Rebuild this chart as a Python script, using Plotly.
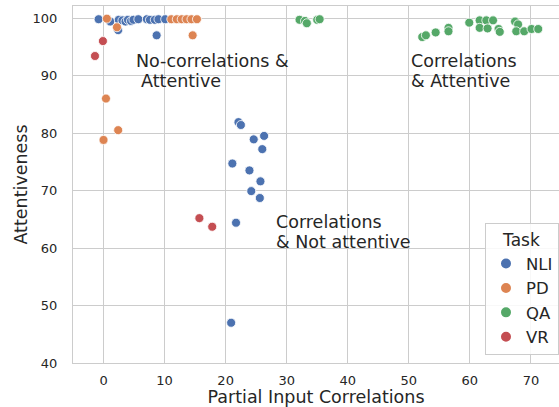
import plotly.graph_objects as go

# ---- data ----
tasks = ["NLI", "PD", "QA", "VR"]
colors = ["#4C72B0", "#DD8452", "#55A868", "#C44E52"]

nli_x = [-0.8, 1.1, 2.5, 2.4, 3.1, 3.6, 4.0, 4.5, 4.9, 5.7, 7.1, 7.6, 8.4, 9.0, 10.1, 8.7,
         22.1, 22.5, 26.3, 24.6, 26.0, 21.1, 23.9, 25.7, 24.2, 25.6, 21.7, 20.9]
nli_y = [99.8, 99.4, 99.7, 97.9, 99.6, 99.4, 99.7, 99.5, 99.7, 99.8, 99.8, 99.7, 99.7, 99.8, 99.8, 97.0,
         81.9, 81.4, 79.5, 78.9, 77.2, 74.7, 73.5, 71.6, 69.9, 68.7, 64.4, 47.0]

pd_x = [0.55, 2.2, 11.1, 12.0, 12.8, 13.6, 14.4, 15.3, 14.6, 0.4, 2.4, 0.0]
pd_y = [99.9, 98.4, 99.8, 99.8, 99.8, 99.8, 99.8, 99.8, 97.0, 86.0, 80.5, 78.8]

qa_x = [32.1, 33.0, 33.3, 35.0, 35.4, 52.2, 52.8, 54.4, 56.5, 56.5, 59.9, 61.6, 61.6, 62.7,
        63.8, 62.9, 64.7, 64.9, 67.4, 67.9, 67.6, 68.9, 70.1, 71.2]
qa_y = [99.7, 99.5, 99.1, 99.7, 99.8, 96.7, 97.0, 97.5, 98.3, 97.7, 99.2, 99.6, 98.3, 99.6,
        99.6, 98.2, 98.1, 97.6, 99.4, 98.9, 97.7, 97.7, 98.1, 98.1]

vr_x = [-0.1, -1.4, 15.7, 17.8]
vr_y = [96.0, 93.4, 65.2, 63.7]

x_ticks = [0, 10, 20, 30, 40, 50, 60, 70]
y_ticks = [40, 50, 60, 70, 80, 90, 100]

labels = [
    ("No-correlations &", 5.0, 92.5),
    ("Attentive", 5.8, 89.0),
    ("Correlations", 50.0, 92.5),
    ("& Attentive", 50.0, 89.0),
    ("Correlations", 28.0, 64.5),
    ("& Not attentive", 28.0, 61.0),
]

series = [(nli_x, nli_y), (pd_x, pd_y), (qa_x, qa_y), (vr_x, vr_y)]

FONT = "DejaVu Sans"
TXT = "#262626"
GRID = "#cccccc"

fig = go.Figure()
for name, col, (xs, ys) in zip(tasks, colors, series):
    fig.add_trace(go.Scatter(
        x=xs, y=ys, mode="markers", name=name,
        marker=dict(size=9, color=col, line=dict(color="white", width=0.8)),
    ))

for text, x, y in labels:
    fig.add_annotation(x=x, y=y, text=text, showarrow=False, xanchor="left", yanchor="middle",
                       font=dict(family=FONT, size=17.5, color=TXT))

fig.update_layout(
    width=559, height=407,
    margin=dict(l=73, r=0, t=6, b=44, autoexpand=False),
    paper_bgcolor="white", plot_bgcolor="white",
    font=dict(family=FONT, color=TXT),
    showlegend=True,
    legend=dict(
        title=dict(text="Task", side="top center", font=dict(family=FONT, size=17, color=TXT)),
        font=dict(family=FONT, size=16.5, color=TXT),
        x=1.0, xanchor="right", y=0.022, yanchor="bottom",
        bgcolor="rgba(255,255,255,0.85)", bordercolor=GRID, borderwidth=1,
        itemsizing="constant", entrywidth=55,
    ),
)
fig.update_xaxes(
    range=[-5, 74.6], tickvals=x_ticks, showgrid=True, gridcolor=GRID, gridwidth=1,
    showline=True, linecolor=GRID, linewidth=1.2, mirror=True, zeroline=False,
    tickfont=dict(family=FONT, size=13, color=TXT),
    ticks="outside", ticklen=5, tickcolor="rgba(0,0,0,0)",
    title=dict(text="Partial Input Correlations", font=dict(family=FONT, size=17.5, color=TXT)),
)
fig.update_yaxes(
    range=[40, 102.1], tickvals=y_ticks, showgrid=True, gridcolor=GRID, gridwidth=1,
    showline=True, linecolor=GRID, linewidth=1.2, mirror=True, zeroline=False,
    tickfont=dict(family=FONT, size=13, color=TXT), ticks="", ticklabelstandoff=12,
    title=dict(text="Attentiveness", font=dict(family=FONT, size=17.5, color=TXT), standoff=0),
)

fig.write_html("out.html", config={"displayModeBar": False},
               post_script="document.body.style.margin='0';document.body.style.overflow='hidden';")
